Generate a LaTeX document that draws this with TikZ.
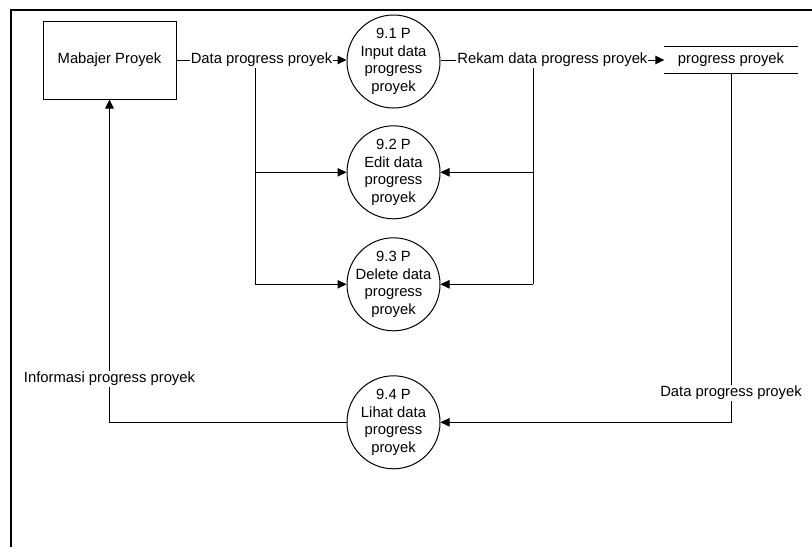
\documentclass[tikz,border=0pt]{standalone}
\usepackage{fontspec}
\setmainfont{Liberation Sans}
\usetikzlibrary{arrows.meta}
\begin{document}
\begin{tikzpicture}[x=1pt,y=-1pt,
  every node/.style={font=\fontsize{14.8}{17.7}\selectfont},
  line/.style={draw=black, line width=1pt},
  flow/.style={line, -{Triangle[length=9pt,width=8.5pt]}},
  proc/.style={circle, draw, line width=1pt, minimum size=93pt, inner sep=-8pt, align=center},
  entity/.style={rectangle, draw, line width=1pt, minimum width=133pt, minimum height=78pt},
  storebox/.style={rectangle, minimum width=133pt, minimum height=26pt, inner sep=0pt},
  lbl/.style={fill=white, inner sep=1pt}]
\useasboundingbox (0,0) rectangle (812,547);
% page frame
\draw[line width=2pt] (11,547) -- (11,10) -- (812,10);

% external entity, processes and data store
\node[entity] (mgr) at (109.5,60) {Mabajer Proyek};
\node[proc] (p1) at (393.5,61.5) {9.1 P\\Input data\\progress\\proyek};
\node[proc] (p2) at (393.5,172.3) {9.2 P\\Edit data\\progress\\proyek};
\node[proc] (p3) at (393.5,284.3) {9.3 P\\Delete data\\progress\\proyek};
\node[proc] (p4) at (393.5,422.3) {9.4 P\\Lihat data\\progress\\proyek};
\node[storebox] (store) at (731,60) {progress proyek};
\draw[line] (store.north west) -- (store.north east);
\draw[line] (store.south west) -- (store.south east);

% branch points
\coordinate (bl) at (255,60);
\coordinate (br) at (533,60);
\coordinate (bl2) at (bl |- p2.west);
\coordinate (bl3) at (bl |- p3.west);
\coordinate (br2) at (br |- p2.east);
\coordinate (br3) at (br |- p3.east);

% branches to edit and delete
\draw[line] (bl) -- (bl3);
\draw[flow] (bl2) -- (p2.west);
\draw[flow] (bl3) -- (p3.west);
\draw[line] (br) -- (br3);
\draw[flow] (br2) -- (p2.east);
\draw[flow] (br3) -- (p3.east);

% main flows
\draw[flow] (mgr.east) -- (mgr.east -| p1.west)
  node[lbl, midway] (l1) {Data progress proyek};
\draw[flow] (p1.east |- store.west) -- (store.west)
  node[lbl, midway] (l2) {Rekam data progress proyek};
\draw[flow] (store.south) -- (store.south |- p4.east) -- (p4.east);
\node[lbl] (l3) at (731,393) {Data progress proyek};
\draw[flow] (p4.west) -- (mgr.south |- p4.west) -- (mgr.south);
\node[lbl] (l4) at (109.5,379) {Informasi progress proyek};
\end{tikzpicture}
\end{document}
